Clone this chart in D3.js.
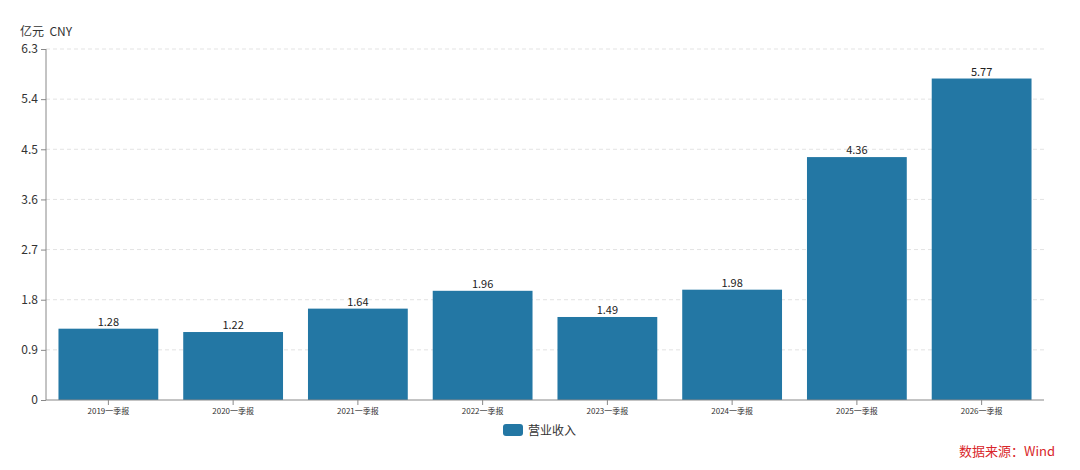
<!DOCTYPE html>
<html><head><meta charset="utf-8">
<script src="https://cdn.jsdelivr.net/npm/d3@7"></script>
<style>body{margin:0;background:#fff;}svg{display:block;font-family:"Noto Sans CJK SC","Noto Sans",sans-serif;}text{white-space:pre;}</style>
</head><body>
<svg id="c" width="1080" height="470"></svg>
<script>
const categories = ["2019一季报","2020一季报","2021一季报","2022一季报","2023一季报","2024一季报","2025一季报","2026一季报"];
const revenue = [1.28,1.22,1.64,1.96,1.49,1.98,4.36,5.77];
const yTicks = [0,0.9,1.8,2.7,3.6,4.5,5.4,6.3];
const seriesName = "营业收入";
const unitLabel = "亿元  CNY";
const sourceLabel = "数据来源：Wind";

(function(){
const svg = d3.select("#c");
const mL = 46, mR = 1044, mT = 49, mB = 400;
const x = d3.scaleBand().domain(categories).range([mL, mR]).paddingInner(0.2).paddingOuter(0.1);
const y = d3.scaleLinear().domain([0, 6.3]).range([mB, mT]);
const color = "#2377a4";
const ff = '"Noto Sans CJK SC","Noto Sans",sans-serif';

// grid
svg.append("g").selectAll("line").data(yTicks.slice(1)).join("line")
  .attr("x1", mL).attr("x2", mR).attr("y1", d=>y(d)).attr("y2", d=>y(d))
  .attr("stroke", "#e3e3e3").attr("stroke-dasharray", "4,3");

// bars
svg.append("g").selectAll("rect").data(revenue).join("rect")
  .attr("x", (d,i)=>x(categories[i])).attr("width", x.bandwidth())
  .attr("y", d=>y(d)).attr("height", d=>mB - y(d)).attr("fill", color);

// value labels
svg.append("g").selectAll("text").data(revenue).join("text")
  .attr("x", (d,i)=>x(categories[i]) + x.bandwidth()/2).attr("y", d=>y(d) - 3)
  .attr("text-anchor", "middle").attr("font-size", 11).attr("fill", "#222")
  .text(d=>d.toFixed(2));

// y axis
const yAxis = svg.append("g").attr("transform", `translate(${mL},0)`)
  .call(d3.axisLeft(y).tickValues(yTicks).tickSize(5).tickPadding(3).tickFormat(d=>d===0?"0":d3.format(".1f")(d)));
yAxis.select(".domain").attr("stroke", "#888").attr("d", `M0,${mB}V${mT}`);
yAxis.selectAll(".tick line").attr("stroke", "#888");
yAxis.selectAll(".tick text").attr("font-size", 12).attr("fill", "#333").attr("font-family", ff);

// x axis
const xAxis = svg.append("g").attr("transform", `translate(0,${mB})`)
  .call(d3.axisBottom(x).tickSize(5).tickPadding(3));
xAxis.select(".domain").attr("stroke", "#888").attr("d", `M${mL},0H${mR}`);
xAxis.selectAll(".tick line").attr("stroke", "#888");
xAxis.selectAll(".tick text").attr("font-size", 8).attr("fill", "#333").attr("font-family", ff);

// unit label
svg.append("text").attr("x", 20).attr("y", 36).attr("font-size", 12).attr("fill", "#333").text(unitLabel);

// legend
const lg = svg.append("g");
lg.append("rect").attr("x", 503).attr("y", 424).attr("width", 20).attr("height", 12).attr("rx", 3).attr("fill", color);
lg.append("text").attr("x", 528).attr("y", 434.5).attr("font-size", 12).attr("fill", "#333").text(seriesName);

// source
svg.append("text").attr("x", 1055).attr("y", 456).attr("text-anchor", "end").attr("font-size", 13).attr("fill", "#d9262a").text(sourceLabel);
})();
</script>
</body></html>
